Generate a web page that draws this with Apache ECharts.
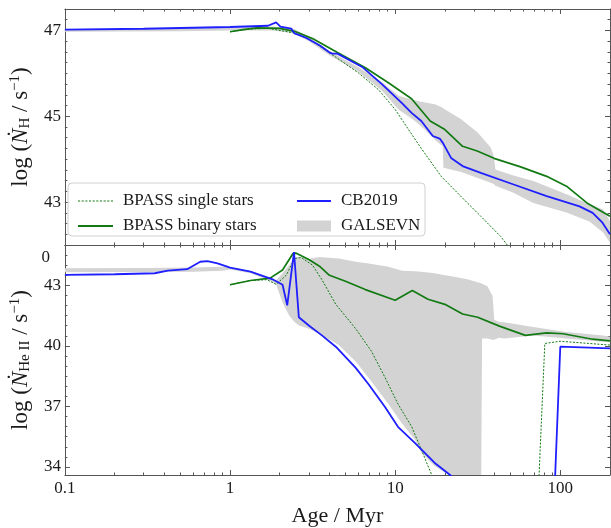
<!DOCTYPE html>
<html><head><meta charset="utf-8">
<script src="https://cdn.jsdelivr.net/npm/echarts@6/dist/echarts.min.js"></script>
<style>html,body{margin:0;padding:0;background:#fff}#c{width:611px;height:528px}</style>
</head><body><div id="c"></div>
<script>
// ---------- axis ticks ----------
const ageTicks = [0.1, 1, 10, 100];
const ageTickLabels = ['0.1', '1', '10', '100'];
const ageRange = [0.1, 200];
const hTicks = [43, 45, 47];
const hRange = [42, 47.5];
const heTicks = [34, 37, 40, 43];
const heRange = [33.6, 45];

// ---------- top panel: log N_H ----------
const cbHAge = [0.1, 0.3, 1.0, 1.7, 1.9, 2.02, 2.35, 2.46, 2.88, 3.5, 3.99, 4.17, 4.47, 6.31, 8.31, 10.95, 12.57, 14.4, 16.9, 18.6, 19.45, 21.8, 25.6, 33, 52.2, 82.7, 130.8, 157, 180, 200];
const cbH = [47.02, 47.04, 47.08, 47.11, 47.19, 47.09, 47.04, 46.93, 46.83, 46.65, 46.49, 46.46, 46.46, 46.15, 45.75, 45.31, 45.08, 44.89, 44.54, 44.48, 44.38, 44.03, 43.84, 43.68, 43.41, 43.14, 42.90, 42.75, 42.52, 42.25];
const binHAge = [1.0, 1.2, 1.45, 2.0, 2.46, 3.16, 4.5, 6.6, 9.1, 12.57, 16.3, 20, 25.6, 31.4, 39.7, 57.5, 82.7, 109, 145, 200];
const binH = [46.97, 47.02, 47.06, 47.05, 46.98, 46.81, 46.48, 46.13, 45.78, 45.41, 44.89, 44.69, 44.30, 44.19, 44.02, 43.82, 43.60, 43.37, 42.98, 42.67];
const sinHAge = [1.0, 1.3, 1.7, 2.45, 3.0, 4.0, 6.0, 7.93, 10, 12, 14.4, 19, 24.9, 33, 43.5, 50];
const sinH = [46.97, 47.03, 47.05, 46.94, 46.80, 46.48, 46.01, 45.62, 45.16, 44.7, 44.25, 43.6, 43.14, 42.67, 42.2, 41.9];
const galHAge = [0.1, 0.5, 1.0, 1.8, 2.4, 3.0, 4.0, 6.0, 8.3, 10.5, 12.6, 14.4, 17.4, 19.4, 19.6, 25.1, 31.6, 37.9, 39.6, 40.5, 52, 68.7, 109, 150, 182, 200];
const galHHigh = [47.03, 47.05, 47.07, 47.09, 47.05, 46.85, 46.52, 46.14, 45.80, 45.48, 45.39, 45.34, 45.28, 45.2, 45.18, 44.93, 44.62, 44.27, 44.07, 43.76, 43.62, 43.49, 43.18, 42.95, 42.83, 42.55];
const galHLow = [46.97, 46.98, 47.0, 47.0, 46.94, 46.75, 46.42, 46.03, 45.6, 45.15, 44.95, 44.77, 44.45, 44.3, 43.8, 43.7, 43.56, 43.45, 43.42, 43.38, 43.22, 42.98, 42.76, 42.55, 42.29, 42.05];

// ---------- bottom panel: log N_HeII ----------
const cbHeAge = [0.1, 0.2, 0.35, 0.42, 0.55, 0.66, 0.73, 0.84, 1.0, 1.33, 1.83, 2.08, 2.22, 2.44, 2.61, 3.0, 3.6, 4.37, 5.77, 6.9, 8.7, 10.4, 13.2, 17.3, 21.8, 23, 92.5, 100, 200];
const cbHe = [43.52, 43.55, 43.60, 43.73, 43.80, 44.17, 44.2, 44.09, 43.88, 43.68, 43.28, 43.03, 42.01, 44.65, 41.42, 41.01, 40.52, 39.96, 38.91, 38.1, 36.96, 35.99, 35.18, 34.21, 33.56, 33.0, 33.0, 39.96, 39.88];
const binHeAge = [1.0, 1.33, 1.75, 2.08, 2.4, 2.5, 3.0, 3.48, 4.0, 5.0, 6.6, 10, 12.7, 15.8, 20, 25.6, 31.6, 42.8, 61.4, 82.8, 104, 157, 200];
const binHe = [43.03, 43.24, 43.36, 43.76, 44.57, 44.6, 44.28, 43.95, 43.5, 43.2, 42.79, 42.26, 42.74, 42.31, 42.06, 41.58, 41.42, 40.98, 40.52, 40.64, 40.6, 40.33, 40.25];
const sinHeAge = [1.0, 1.33, 1.67, 1.9, 2.19, 2.46, 2.7, 3.16, 3.6, 4.37, 5.77, 7.2, 8.7, 10.4, 12.6, 14.4, 15.8, 17.5, 74, 80.6, 100, 200];
const sinHe = [43.03, 43.24, 43.28, 43.05, 43.5, 44.33, 44.38, 44.0, 43.28, 42.06, 40.85, 39.72, 38.42, 37.12, 35.99, 34.86, 34.05, 33.2, 33.2, 40.12, 40.23, 40.04];
const galHeAge = [0.1, 0.3, 0.6, 0.9, 1.0, 1.33, 1.75, 1.9, 2.08, 2.28, 2.45, 2.62, 3.0, 3.48, 4.55, 5.77, 6.9, 9.1, 11, 13.2, 14.4, 17.3, 20, 22, 27.3, 33.2, 33.6, 36.2, 38.9, 39.8, 42.5, 45.7, 68.5, 109, 182, 200];
const galHeHigh = [43.85, 43.86, 43.88, 43.92, 43.9, 43.72, 43.35, 43.25, 43.6, 44.0, 44.35, 44.42, 44.3, 44.41, 44.33, 44.17, 44.08, 43.92, 43.72, 43.7, 43.68, 43.6, 43.5, 43.45, 43.3, 43.1, 43.08, 42.95, 42.47, 41.3, 41.2, 41.17, 40.93, 40.69, 40.52, 40.45];
const galHeLow = [43.65, 43.66, 43.68, 43.72, 43.78, 43.6, 43.22, 43.05, 42.15, 41.5, 41.2, 41.01, 40.85, 40.6, 40.04, 39.23, 38.42, 37.12, 36.15, 35.35, 34.7, 34.05, 33.72, 33.5, 33.5, 33.5, 40.36, 40.36, 40.3, 40.3, 40.4, 40.36, 40.52, 40.36, 40.2, 40.2];

// ---------- styling ----------
const F = "'Liberation Serif','DejaVu Serif',serif";
const TXT = '#1a1a1a';
const FRAME = '#555';
const BLUE = '#1f1fff';
const GREEN = '#127a12';
const GRAY = '#d3d3d3';
const L = Math.log10;
const xMin = L(ageRange[0]), xMax = L(ageRange[1]);
const xMajor = ageTicks.map(L);
const xMinor = [];
[-1, 0, 1, 2].forEach(k => { for (let m = 2; m <= 9; m++) { const a = m * Math.pow(10, k); if (a <= ageRange[1]) xMinor.push(L(a)); } });
function steps(a, b, s, skip) { const out = []; for (let v = a; v <= b + 1e-9; v += s) { const r = Math.round(v * 100) / 100; if (!skip.some(t => Math.abs(t - r) < 1e-6)) out.push(r); } return out; }
const hMinor = steps(42, 47.5, 0.25, hTicks);
const heMinor = steps(34, 45, 0.5, heTicks);

function xAx(grid, pos, ticks, len, extra) {
  return Object.assign({
    type: 'value', gridIndex: grid, position: pos, min: xMin, max: xMax,
    axisLine: { show: len > 3, onZero: false, lineStyle: { color: FRAME, width: 1 } },
    axisTick: { show: true, inside: true, length: len, customValues: ticks, lineStyle: { color: FRAME, width: 1 } },
    axisLabel: { show: false }, splitLine: { show: false }
  }, extra || {});
}
function yAx(grid, pos, range, ticks, len, extra) {
  return Object.assign({
    type: 'value', gridIndex: grid, position: pos, min: range[0], max: range[1],
    axisLine: { show: len > 3, onZero: false, lineStyle: { color: FRAME, width: 1 } },
    axisTick: { show: true, inside: true, length: len, customValues: ticks, lineStyle: { color: FRAME, width: 1 } },
    axisLabel: { show: false }, splitLine: { show: false }
  }, extra || {});
}
const rich = {
  n: { fontFamily: F, fontSize: 23, color: TXT },
  i: { fontFamily: F, fontSize: 23, fontStyle: 'italic', color: TXT },
  sb: { fontFamily: F, fontSize: 15, color: TXT, padding: [10, 0, 0, 0] },
  sp: { fontFamily: F, fontSize: 15, color: TXT, padding: [0, 0, 10, 0] }
};
const xLabelFmt = v => { const i = xMajor.findIndex(t => Math.abs(t - v) < 1e-6); return i >= 0 ? ageTickLabels[i] : ''; };
const yLabel = (ticks) => ({ show: true, customValues: ticks, fontFamily: F, fontSize: 17, color: TXT, margin: 4 });

const xAxis = [
  xAx(0, 'bottom', xMajor, 5), xAx(0, 'top', xMajor, 5), xAx(0, 'bottom', xMinor, 2.5), xAx(0, 'top', xMinor, 2.5),
  xAx(1, 'bottom', xMajor, 5, {
    axisLabel: { show: true, customValues: xMajor, formatter: xLabelFmt, fontFamily: F, fontSize: 17, color: TXT, margin: 5 },
    name: 'Age / Myr', nameLocation: 'middle', nameGap: 30, nameTextStyle: { fontFamily: F, fontSize: 22, color: TXT }
  }),
  xAx(1, 'top', xMajor, 5), xAx(1, 'bottom', xMinor, 2.5), xAx(1, 'top', xMinor, 2.5)
];
const yAxis = [
  yAx(0, 'left', hRange, hTicks, 5, {
    axisLabel: yLabel(hTicks),
    name: '{n|log (}{i|Ṅ}{sb|H}{n| / s}{sp|−1}{n|)}', nameLocation: 'middle', nameGap: 26, nameRotate: 90,
    nameTextStyle: { rich: rich, fontFamily: F, fontSize: 23, color: TXT }
  }),
  yAx(0, 'right', hRange, hTicks, 5), yAx(0, 'left', hRange, hMinor, 2.5), yAx(0, 'right', hRange, hMinor, 2.5),
  yAx(1, 'left', heRange, heTicks, 5, {
    axisLabel: yLabel(heTicks),
    name: '{n|log (}{i|Ṅ}{sb|He II}{n| / s}{sp|−1}{n|)}', nameLocation: 'middle', nameGap: 26, nameRotate: 90,
    nameTextStyle: { rich: rich, fontFamily: F, fontSize: 23, color: TXT }
  }),
  yAx(1, 'right', heRange, heTicks, 5), yAx(1, 'left', heRange, heMinor, 2.5), yAx(1, 'right', heRange, heMinor, 2.5)
];

function pts(ages, vals) { return ages.map((a, i) => [L(a), vals[i]]); }
function lineS(name, ages, vals, xi, yi, style) {
  return { type: 'line', name: name, xAxisIndex: xi, yAxisIndex: yi, data: pts(ages, vals), showSymbol: false, symbol: 'none',
    clip: true, z: 3, lineStyle: style, itemStyle: { color: style.color }, emphasis: { disabled: true } };
}
function bandS(ages, lo, hi, xi, yi, range) {
  const cl = v => Math.min(Math.max(v, range[0]), range[1]);
  return { type: 'custom', name: 'GALSEVN', xAxisIndex: xi, yAxisIndex: yi, z: 1, silent: true,
    itemStyle: { color: GRAY }, data: [[xMin, range[0]]],
    renderItem: function (params, api) {
      const p = [];
      for (let i = 0; i < ages.length; i++) p.push(api.coord([L(ages[i]), cl(hi[i])]));
      for (let i = ages.length - 1; i >= 0; i--) p.push(api.coord([L(ages[i]), cl(lo[i])]));
      return { type: 'polygon', shape: { points: p }, style: { fill: GRAY } };
    } };
}
const singleStyle = { color: GREEN, width: 1, type: [2, 1.5] };
const binaryStyle = { color: GREEN, width: 1.7 };
const cbStyle = { color: BLUE, width: 1.8 };

const series = [
  bandS(galHAge, galHLow, galHHigh, 0, 0, hRange),
  lineS('BPASS single stars', sinHAge, sinH, 0, 0, singleStyle),
  lineS('BPASS binary stars', binHAge, binH, 0, 0, binaryStyle),
  lineS('CB2019', cbHAge, cbH, 0, 0, cbStyle),
  bandS(galHeAge, galHeLow, galHeHigh, 4, 4, heRange),
  lineS('BPASS single stars', sinHeAge, sinHe, 4, 4, singleStyle),
  lineS('BPASS binary stars', binHeAge, binHe, 4, 4, binaryStyle),
  lineS('CB2019', cbHeAge, cbHe, 4, 4, cbStyle)
];

// legend line icons (kept to their aspect ratio by the legend)
let dotPath = 'path://';
for (let x = 0; x < 35; x += 3.5) dotPath += 'M' + x + ',0h2v1h-2z';
const solidPath = 'path://M0,0H35V2H0Z';

const legendText = { fontFamily: F, fontSize: 17, color: TXT, lineHeight: 18, padding: [0, 0, 0, 5] };
const option = {
  animation: false,
  backgroundColor: '#fff',
  grid: [
    { left: 59, top: 9, width: 551, height: 236 },
    { left: 59, top: 245, width: 551, height: 233 }
  ],
  xAxis: xAxis,
  yAxis: yAxis,
  legend: [
    { left: 73, top: 187, orient: 'vertical', itemWidth: 35, itemHeight: 14, itemGap: 7, z: 6, selectedMode: false,
      data: [{ name: 'BPASS single stars', icon: dotPath }, { name: 'BPASS binary stars', icon: solidPath }], textStyle: legendText },
    { left: 292, top: 187, orient: 'vertical', itemWidth: 34, itemHeight: 11, itemGap: 7, z: 6, selectedMode: false,
      data: [{ name: 'CB2019', icon: solidPath }, { name: 'GALSEVN', icon: 'rect' }], textStyle: legendText }
  ],
  graphic: [
    { type: 'rect', z: 5, shape: { x: 68, y: 183, width: 357, height: 53, r: 4 },
      style: { fill: 'rgba(255,255,255,0.85)', stroke: '#d0d0d0', lineWidth: 1 } },
    { type: 'text', z: 5, x: 50, y: 258, style: { text: '0', fontFamily: F, fontSize: 17, fill: TXT, align: 'right', verticalAlign: 'middle' } }
  ],
  series: series
};
const chart = echarts.init(document.getElementById('c'), null, { renderer: 'canvas' });
chart.setOption(option);
</script></body></html>
